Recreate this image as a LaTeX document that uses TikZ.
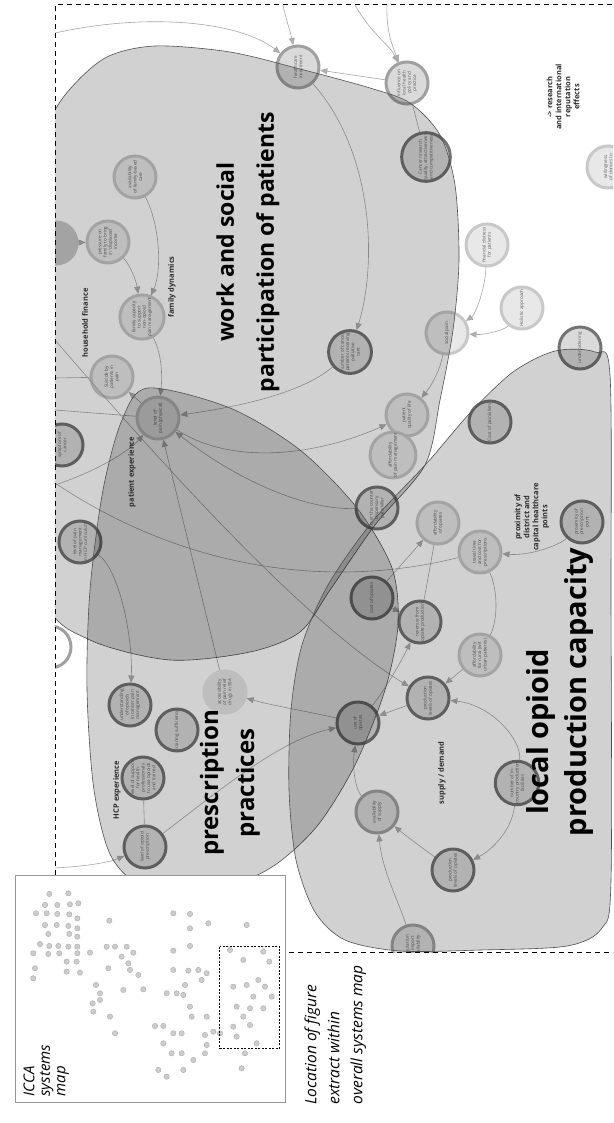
\documentclass[tikz,border=0pt]{standalone}
\usepackage{fontspec}
\setmainfont{Open Sans}
\usepackage{tikz}
\usetikzlibrary{arrows.meta}
\definecolor{ringdark}{RGB}{115,115,115}
\definecolor{ringmid}{RGB}{160,160,160}
\definecolor{ringlight}{RGB}{200,200,200}
\definecolor{nodefill}{RGB}{218,218,218}
\definecolor{nodelight}{RGB}{232,232,232}
\definecolor{nodetext}{RGB}{95,95,95}
\definecolor{edgegray}{RGB}{165,165,165}
\definecolor{tipgray}{RGB}{175,175,175}
\definecolor{blobline}{RGB}{80,80,80}
\definecolor{labeltext}{RGB}{45,45,45}
\definecolor{insetline}{RGB}{150,150,150}
\definecolor{dotfill}{RGB}{205,205,205}
\definecolor{dotring}{RGB}{170,170,170}

\tikzset{
  factor/.style={circle, minimum size=42pt, inner sep=0pt, line width=3pt, draw=ringdark, fill=nodefill,
    rotate=90, align=center, text=nodetext, font=\fontsize{4.6}{5.3}\selectfont},
  factormid/.style={factor, draw=ringmid},
  factorlight/.style={factor, draw=ringlight, fill=nodelight},
  link/.style={draw=edgegray, line width=0.6pt},
  arr/.style={link, -{Triangle[length=7pt,width=6pt,fill=tipgray]}},
  blob/.style={fill=black, fill opacity=0.18, draw=blobline, line width=0.6pt},
  theme/.style={rotate=90, align=center, text=labeltext, font=\fontsize{7.5}{9}\selectfont\bfseries},
  title/.style={rotate=90, align=center, font=\fontsize{23}{40}\selectfont\bfseries},
  caption/.style={rotate=90, align=left, anchor=north west, font=\fontsize{15}{15.5}\selectfont\itshape}
}

\begin{document}
\begin{tikzpicture}[x=1pt,y=-1pt]
\useasboundingbox (0,0) rectangle (613,1123);

\begin{scope}
\clip (55,5) rectangle (613,952);

\coordinate (inA) at (55,33);
\coordinate (inB) at (283,5);
\coordinate (inC) at (355,5);
\coordinate (inD) at (387,5);
\coordinate (inE) at (55,378);
\coordinate (inF) at (55,410);
\coordinate (inG) at (55,485);
\coordinate (inH) at (55,340);
\coordinate (inI) at (55,483);
\coordinate (inJ) at (55,868);

\node[factormid] (invest) at (298,67) {healthcare\\investment};
\node[factormid] (policy) at (407,83) {influence on\\local health\\policy and\\practice};
\node[factor] (research) at (426,157) {Cancer research\\quality, attractiveness\\and competitiveness};
\node[factorlight] (famcare) at (135,177) {availability\\of family-based\\care};
\node[factorlight, fill=ringlight, draw=ringlight] (leftA) at (56,243) {};
\node[factorlight] (pressure) at (108,242) {pressure on\\family to bring\\in ‘displaced’\\income};
\node[factorlight] (famcap) at (142,317) {family capacity\\to support\\non-opioid\\pain management};
\node[factorlight] (suicide) at (112,377) {Suicide by\\patients in\\pain};
\node[factorlight] (pain) at (158,418) {level of\\pain (physical)};
\node[factor] (symptom) at (62,445) {symptom of\\cancer};
\node[factor] (curric) at (80,542) {level of pain\\management\\in HCP curriculum};
\node[factormid, fill=white] (leftB) at (50,647) {};
\node[factor] (understand) at (130,705) {understanding\\of opioids\\in cancer pain\\management};
\node[factor] (training) at (177,730) {training sufficiency};
\node[factorlight, draw=nodelight] (access) at (225,692) {accessibility\\of pain relief\\drugs in SSA};
\node[factor] (support) at (143,778) {level of support\\for health\\professionals\\to use opioids\\and trained};
\node[factor] (prescr) at (145,847) {level of opioid\\prescription};
\node[factor] (use) at (358,723) {use of\\opiates};
\node[factormid] (supply) at (377,812) {availability\\of supply};
\node[factor] (prodlow) at (453,870) {production\\levels of opiates};
\node[factor] (facilities) at (517,783) {number of in-\\country production\\facilities};
\node[factormid] (importreg) at (413,946) {regulation\\of import\\availability};
\node[factor] (produp) at (428,698) {production\\levels of opiates};
\node[factor] (revenue) at (420,622) {revenue from\\opiate production};
\node[factor] (cost) at (372,598) {cost of opiates};
\node[factorlight] (affrural) at (480,655) {affordability\\for rural (wrt\\urban patients)};
\node[factorlight] (travel) at (480,552) {travel time\\and cost for\\prescriptions};
\node[factorlight] (affopi) at (438,523) {affordability\\of opiates};
\node[factor] (counter) at (377,508) {over the counter\\dispensary\\pain killer};
\node[factor] (proximity) at (582,522) {proximity of\\prescription\\point};
\node[factor] (painkcost) at (490,422) {Cost of painkillers};
\node[factorlight] (qol) at (407,415) {patient\\quality of life};
\node[factorlight] (affpain) at (393,455) {affordability\\of pain management};
\node[factor] (palliative) at (350,352) {number of cancer\\patients receiving\\palliative\\care};
\node[factorlight] (social) at (447,333) {social pain};
\node[factorlight] (distress) at (487,245) {financial distress\\for patients};
\node[factorlight] (holistic) at (522,308) {Holistic approach};
\node[factor] (underorder) at (580,348) {underordering};
\node[factorlight] (donors) at (608,167) {willingness\\of donors to};

\draw[arr] (inA) .. controls (150,12) and (240,22) .. (invest);
\draw[arr] (inB) .. controls (286,20) and (290,30) .. (invest);
\draw[arr] (inC) .. controls (372,35) and (390,45) .. (policy);
\draw[arr] (inD) .. controls (386,30) and (392,45) .. (policy);
\draw[arr] (policy) -- (invest);
\draw[link] (policy) -- (research);
\draw[arr] (invest) .. controls (372,150) and (378,260) .. (palliative);
\draw[arr] (distress) .. controls (485,290) and (475,315) .. (social);
\draw[arr] (holistic) .. controls (505,330) and (485,335) .. (social);
\draw[arr] (social) .. controls (440,370) and (432,385) .. (qol);
\draw[arr] (palliative) .. controls (300,395) and (230,408) .. (pain);
\draw[arr] (pain) .. controls (240,470) and (330,450) .. (qol);
\draw[arr] (counter) .. controls (300,510) and (230,475) .. (pain);
\draw[arr] (famcare) .. controls (160,225) and (162,270) .. (famcap);
\draw[arr] (famcap) .. controls (160,350) and (163,370) .. (pain);
\draw[arr] (leftA) -- (pressure);
\draw[arr] (pressure) .. controls (130,265) and (136,280) .. (famcap);
\draw[arr] (pain) -- (suicide);
\draw[link] (inE) -- (suicide);
\draw[link] (inF) -- (pain);
\draw[arr] (inG) .. controls (100,470) and (130,450) .. (pain);
\draw[arr] (access) -- (pain);
\draw[arr] (curric) .. controls (120,570) and (133,640) .. (understand);
\draw[arr] (use) .. controls (310,712) and (270,705) .. (access);
\draw[arr] (prescr) .. controls (220,790) and (280,740) .. (use);
\draw[arr] (inJ) .. controls (90,866) and (110,862) .. (prescr);
\draw[link] (support) -- (prescr);
\draw[arr] (supply) .. controls (356,790) and (352,770) .. (use);
\draw[arr] (importreg) .. controls (398,900) and (382,870) .. (supply);
\draw[arr] (prodlow) .. controls (425,850) and (405,835) .. (supply);
\draw[arr] (facilities) .. controls (512,830) and (492,850) .. (prodlow);
\draw[arr] (facilities) .. controls (522,740) and (492,705) .. (produp);
\draw[arr] (produp) -- (use);
\draw[arr] (use) .. controls (385,690) and (402,660) .. (revenue);
\draw[arr] (cost) -- (revenue);
\draw[arr] (cost) -- (affopi);
\draw[link] (affopi) -- (revenue);
\draw[link] (travel) .. controls (498,590) and (498,620) .. (affrural);
\draw[arr] (proximity) .. controls (560,545) and (530,556) .. (travel);
\draw[arr] (affrural) -- (produp);
\draw[arr] (inH) .. controls (150,450) and (300,620) .. (produp);
\draw[link] (inI) .. controls (200,580) and (350,585) .. (travel);

\draw[blob] plot[smooth cycle] coordinates {(20,200) (40,140) (65,95) (105,58) (155,46) (230,52) (300,69) (370,88) (410,103) (440,135) (455,185) (459,260) (453,330) (440,400) (425,465) (375,525) (330,590) (300,632) (250,652) (170,660) (90,640) (45,600) (20,450)};
\draw[blob] plot[smooth cycle] coordinates {(148,388) (230,408) (300,450) (357,508) (392,568) (398,625) (385,690) (355,765) (318,825) (275,865) (230,884) (150,888) (112,858) (94,790) (87,690) (90,590) (103,490) (122,420)};
\draw[blob] plot[smooth cycle] coordinates {(513,372) (555,351) (595,352) (610,375) (611,600) (611,880) (602,928) (567,946) (480,950) (400,951) (345,940) (315,912) (296,860) (289,790) (291,710) (302,645) (328,585) (372,522) (427,463) (470,413)};

\node[theme] (household) at (85,323) {household finance};
\node[theme] (dynamics) at (172,287) {family dynamics};
\node[theme] (experience) at (132,472) {patient experience};
\node[theme] (hcp) at (117,790) {HCP experience};
\node[theme] (demand) at (442,773) {supply / demand};
\node[theme] (district) at (532,517) {proximity of\\district and\\capital healthcare\\points};
\node[theme] (reputation) at (563,97) {-> research\\and international\\reputation\\effects};

\node[title] (work) at (248,252) {work and social\\participation of patients};
\node[title, font=\fontsize{24}{36}\selectfont\bfseries] (practices) at (230,783) {prescription\\practices};
\node[title, font=\fontsize{29}{38}\selectfont\bfseries] (opioidA) at (541,732) {local opioid};
\node[title, font=\fontsize{29}{38}\selectfont\bfseries] (opioidB) at (579,692) {production capacity};
\end{scope}

\draw[dash pattern=on 5pt off 4pt, line width=1pt] (55,875) -- (55,5) -- (613,5);
\draw[dash pattern=on 5pt off 4pt, line width=1pt] (280,952) -- (613,952);

\draw[draw=insetline, fill=white, line width=0.8pt] (15,875) rectangle (285,1102);
\begin{scope}[shift={(0,740)}, scale=0.3333]
\foreach \p in {(148,462),(205,460),(135,495),(172,495),(210,493),(235,490),(108,520),(140,520),(172,522),(208,523),(232,535),(135,555),(170,555),(205,558),(232,565),(145,582),(208,582),(232,590),(120,612),(148,618),(175,618),(205,620),(232,620),(100,640),(145,642),(178,640),(232,640),(105,685),(200,665),(230,665),(270,638),(100,715),(200,695),(240,698),
  (328,542),(320,620),(345,620),(380,620),(400,638),(365,650),(385,670),(325,685),(288,735),(300,760),(278,790),(300,780),(330,830),(280,815),(345,880),(370,750),(430,748),(390,690),(415,705),
  (520,520),(570,522),(625,550),(740,555),(570,565),(520,632),(570,618),(520,690),(565,692),(595,690),(620,700),(605,720),(555,735),(500,760),(530,760),(550,765),(570,800),(575,830),(620,830),(640,875),(615,885),(465,858),(490,858),(520,880),(545,880),(490,910),(515,940),(545,940),(620,915),(615,940),(580,960),(550,990),(475,990),(500,1010),
  (690,630),(730,660),(790,635),(808,665),(700,740),(740,735),(775,720),(795,740),(760,770),(815,770),(710,800),(750,805),(790,805),(730,830),(700,860),(750,855),(710,890),(770,910),(735,940),(725,985),(660,880)}
  \filldraw[fill=dotfill, draw=dotring, line width=0.4pt] \p circle (8);
\draw[dash pattern=on 2pt off 1.5pt, line width=1pt] (660,620) rectangle (840,925);
\end{scope}

\node[caption] (icca) at (20,1100) {ICCA\\systems\\map};
\node[caption, font=\fontsize{15.5}{23}\selectfont\itshape] (location) at (301,1108) {Location of figure\\extract within\\overall systems map};
\end{tikzpicture}
\end{document}
